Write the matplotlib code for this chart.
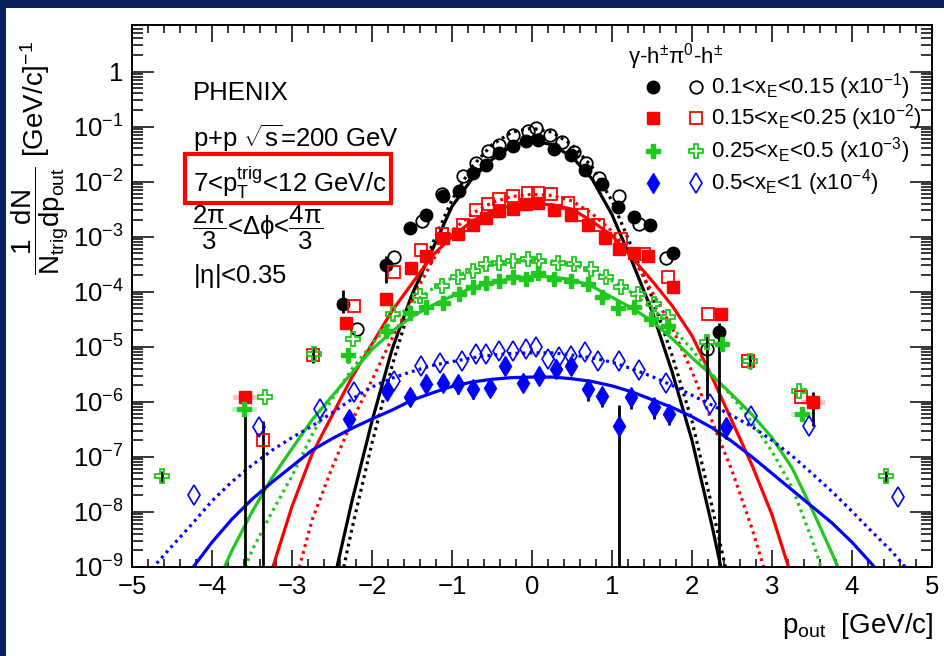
import numpy as np
import matplotlib
matplotlib.use("Agg")
import matplotlib.pyplot as plt
from matplotlib.patches import Rectangle
from matplotlib.ticker import FixedLocator, LogLocator, MultipleLocator, NullFormatter

plt.rcParams['font.family'] = ['Liberation Sans', 'DejaVu Sans']
plt.rcParams['mathtext.fontset'] = 'custom'
plt.rcParams['mathtext.rm'] = 'Liberation Sans'
plt.rcParams['mathtext.it'] = 'Liberation Sans'
plt.rcParams['mathtext.bf'] = 'Liberation Sans:bold'
plt.rcParams['mathtext.default'] = 'regular'

# ---------------- data (values are log10 of 1/Ntrig dN/dpout, already scaled) -------------
# gamma-h, 0.1<xE<0.15 (x1e-1)
bk_g_x = [-2.36, -1.82, -1.53, -1.32, -1.11, -0.91, -0.74, -0.57, -0.41, -0.24, -0.07,
          0.07, 0.28, 0.49, 0.66, 0.87, 1.07, 1.27, 1.47, 1.76, 2.34]
bk_g_y = [-4.23, -3.52, -2.84, -2.60, -2.26, -2.17, -1.84, -1.69, -1.48, -1.36, -1.26,
          -1.24, -1.40, -1.52, -1.78, -2.05, -2.46, -2.64, -2.79, -3.29, -4.74]
# pi0-h, 0.1<xE<0.15 (x1e-1)
bk_p_x = [-2.19, -1.72, -1.38, -1.13, -0.86, -0.70, -0.55, -0.41, -0.24, -0.05,
          0.05, 0.22, 0.37, 0.53, 0.68, 0.84, 1.09, 1.34, 1.68, 2.19]
bk_p_y = [-4.68, -3.36, -2.72, -2.23, -1.90, -1.66, -1.45, -1.33, -1.15, -1.08,
          -1.03, -1.15, -1.28, -1.46, -1.66, -1.93, -2.27, -2.77, -3.38, -5.04]

# gamma-h, 0.15<xE<0.25 (x1e-2)
rd_g_x = [-3.59, -2.32, -1.82, -1.51, -1.32, -1.11, -0.93, -0.74, -0.57, -0.41, -0.24, -0.07,
          0.07, 0.28, 0.49, 0.70, 0.91, 1.09, 1.28, 1.45, 1.76, 2.36, 3.51]
rd_g_y = [-5.92, -4.56, -4.14, -3.56, -3.35, -3.02, -2.96, -2.78, -2.66, -2.54, -2.50, -2.40,
          -2.38, -2.51, -2.60, -2.78, -3.02, -3.23, -3.29, -3.35, -3.91, -4.41, -6.01]
# pi0-h, 0.15<xE<0.25 (x1e-2)
rd_p_x = [-3.36, -2.74, -2.22, -1.73, -1.39, -1.13, -0.86, -0.70, -0.55, -0.41, -0.24, -0.05,
          0.07, 0.24, 0.45, 0.63, 0.82, 1.11, 1.40, 1.70, 2.20, 2.70, 3.36]
rd_p_y = [-6.69, -5.15, -4.26, -3.65, -3.25, -2.96, -2.78, -2.51, -2.41, -2.32, -2.26, -2.20,
          -2.21, -2.23, -2.38, -2.60, -2.78, -3.05, -3.32, -3.73, -4.41, -5.25, -5.92]

# gamma-h, 0.25<xE<0.5 (x1e-3)
gr_g_x = [-3.60, -2.30, -1.82, -1.52, -1.32, -1.11, -0.91, -0.74, -0.57, -0.41, -0.24, -0.07,
          0.07, 0.28, 0.49, 0.70, 0.88, 1.07, 1.27, 1.49, 1.70, 2.38, 3.38]
gr_g_y = [-6.13, -5.15, -4.71, -4.38, -4.28, -4.20, -4.05, -3.92, -3.84, -3.80, -3.74, -3.76,
          -3.66, -3.77, -3.80, -3.86, -4.10, -4.29, -4.28, -4.50, -4.62, -4.95, -6.22]
# pi0-h, 0.25<xE<0.5 (x1e-3)
gr_p_x = [-4.63, -3.34, -2.72, -2.24, -1.74, -1.40, -1.13, -0.93, -0.74, -0.57, -0.41, -0.24,
          -0.05, 0.09, 0.32, 0.53, 0.74, 0.93, 1.11, 1.32, 1.53, 1.70, 2.19, 2.72, 3.34, 4.42]
gr_p_y = [-7.34, -5.92, -5.14, -4.86, -4.41, -4.08, -3.90, -3.74, -3.62, -3.50, -3.47, -3.44,
          -3.41, -3.44, -3.47, -3.50, -3.59, -3.74, -3.92, -4.05, -4.23, -4.45, -4.92, -5.25,
          -5.80, -7.34]

# gamma-h, 0.5<xE<1 (x1e-4)
bl_g_x = [-2.29, -1.81, -1.53, -1.33, -1.11, -0.92, -0.74, -0.53, -0.34, -0.11,
          0.09, 0.30, 0.49, 0.70, 0.88, 1.09, 1.24, 1.53, 1.71, 2.42]
bl_g_y = [-6.31, -5.80, -5.92, -5.68, -5.65, -5.68, -5.77, -5.74, -5.34, -5.65,
          -5.53, -5.40, -5.34, -5.77, -5.89, -6.43, -5.92, -6.10, -6.22, -6.46]
bl_g_err = [0.12, 0.12, 0.12, 0.12, 0.12, 0.14, 0.14, 0.12, 0.12, 0.12,
            0.10, 0.10, 0.10, 0.16, 0.16, 0.00, 0.16, 0.16, 0.16, 0.16]
# pi0-h, 0.5<xE<1 (x1e-4)
bl_p_x = [-4.23, -3.41, -2.65, -2.22, -1.73, -1.39, -1.15, -0.88, -0.70, -0.57, -0.41, -0.24,
          -0.07, 0.05, 0.20, 0.34, 0.49, 0.66, 0.82, 1.09, 1.34, 1.68, 2.22, 2.74, 3.46, 4.57]
bl_p_y = [-7.70, -6.46, -6.13, -5.83, -5.62, -5.34, -5.30, -5.25, -5.13, -5.13, -5.07, -5.07,
          -5.04, -5.01, -5.22, -5.19, -5.16, -5.10, -5.25, -5.25, -5.43, -5.65, -6.04, -6.25,
          -6.43, -7.73]

# large (black) uncertainties: position, lower edge, upper edge (log10)
eb_x = [-3.59, -3.36, 1.09, 2.34, 2.19, 3.51, -2.36, -1.82, -2.74, -2.30, 2.72, 4.42, -4.63]
eb_lo = [-10.0, -10.0, -10.0, -10.0, -5.95, -6.44, -4.39, -3.85, -5.30, -5.30, -5.40, -7.45, -7.45]
eb_hi = [-6.05, -6.34, -6.06, -4.56, -4.80, -5.82, -3.97, -3.35, -5.00, -5.05, -5.15, -7.25, -7.25]

# fit curves (gamma-h solid, pi0-h dotted)
fit_bk_g_x = [-2.5, -2.25, -2.0, -1.75, -1.5, -1.25, -1.0, -0.75, -0.5, -0.25, 0.0,
              0.25, 0.5, 0.75, 1.0, 1.25, 1.5, 1.75, 2.0, 2.25, 2.5]
fit_bk_g_y = [-9.4, -7.8, -6.35, -5.05, -4.05, -3.25, -2.45, -1.95, -1.6, -1.35, -1.25,
              -1.33, -1.55, -1.95, -2.6, -3.45, -4.35, -5.45, -6.7, -8.25, -9.95]
fit_bk_p_x = fit_bk_g_x
fit_bk_p_y = [-10.0, -8.3, -6.75, -5.35, -4.15, -3.15, -2.33, -1.73, -1.33, -1.1, -1.03,
              -1.1, -1.33, -1.73, -2.35, -3.2, -4.1, -5.15, -6.35, -7.9, -9.55]

fit_rd_g_x = [-3.25, -3.0, -2.75, -2.5, -2.25, -2.0, -1.75, -1.5, -1.25, -1.0, -0.75, -0.5, -0.25, 0.0,
              0.25, 0.5, 0.75, 1.0, 1.25, 1.5, 1.75, 2.0, 2.25, 2.5, 2.75, 3.0, 3.25]
fit_rd_g_y = [-9.05, -7.9, -6.95, -6.25, -5.55, -4.95, -4.35, -3.85, -3.35, -3.0, -2.72, -2.53, -2.43, -2.4,
              -2.42, -2.5, -2.72, -2.98, -3.38, -3.8, -4.25, -4.8, -5.55, -6.35, -7.15, -8.05, -9.2]
fit_rd_p_x = [-3.0, -2.75, -2.5, -2.25, -2.0, -1.75, -1.5, -1.25, -1.0, -0.75, -0.5, -0.25, 0.0,
              0.25, 0.5, 0.75, 1.0, 1.25, 1.5, 1.75, 2.0, 2.25, 2.5, 2.75, 3.0]
fit_rd_p_y = [-9.5, -8.15, -7.2, -6.35, -5.6, -4.85, -4.15, -3.45, -2.9, -2.58, -2.38, -2.27, -2.23,
              -2.25, -2.35, -2.58, -2.9, -3.35, -4.0, -4.65, -5.45, -6.35, -7.25, -8.3, -9.5]

fit_gr_g_x = [-4.0, -3.75, -3.5, -3.25, -3.0, -2.75, -2.5, -2.25, -2.0, -1.75, -1.5, -1.25, -1.0,
              -0.75, -0.5, -0.25, 0.0, 0.25, 0.5, 0.75, 1.0, 1.25, 1.5, 1.75, 2.0, 2.25, 2.5,
              2.75, 3.0, 3.25, 3.5, 3.75, 4.0]
fit_gr_g_y = [-9.5, -8.7, -8.0, -7.38, -6.85, -6.33, -5.9, -5.47, -5.05, -4.72, -4.45, -4.25, -4.08,
              -3.93, -3.83, -3.76, -3.72, -3.73, -3.78, -3.9, -4.1, -4.3, -4.53, -4.85, -5.2, -5.52,
              -5.87, -6.23, -6.65, -7.2, -7.95, -8.75, -9.6]
fit_gr_p_x = [-3.75, -3.5, -3.25, -3.0, -2.75, -2.5, -2.25, -2.0, -1.75, -1.5, -1.25, -1.0,
              -0.75, -0.5, -0.25, 0.0, 0.25, 0.5, 0.75, 1.0, 1.25, 1.5, 1.75, 2.0, 2.25, 2.5,
              2.75, 3.0, 3.25, 3.5, 3.75]
fit_gr_p_y = [-9.6, -8.7, -8.0, -7.35, -6.6, -5.95, -5.4, -4.95, -4.55, -4.22, -3.95, -3.75,
              -3.6, -3.5, -3.45, -3.43, -3.44, -3.5, -3.62, -3.8, -4.02, -4.3, -4.65, -5.05, -5.5,
              -5.9, -6.37, -6.9, -7.55, -8.5, -9.6]

fit_bl_g_x = [-4.5, -4.25, -4.0, -3.75, -3.5, -3.25, -3.0, -2.75, -2.5, -2.25, -2.0, -1.75, -1.5,
              -1.25, -1.0, -0.75, -0.5, -0.25, 0.0, 0.25, 0.5, 0.75, 1.0, 1.25, 1.5, 1.75, 2.0,
              2.25, 2.5, 2.75, 3.0, 3.25, 3.5, 3.75, 4.0, 4.25, 4.5]
fit_bl_g_y = [-9.55, -9.03, -8.55, -8.13, -7.77, -7.46, -7.17, -6.88, -6.67, -6.48, -6.31, -6.15, -5.97,
              -5.84, -5.72, -5.64, -5.59, -5.56, -5.55, -5.55, -5.58, -5.63, -5.71, -5.82, -5.96, -6.1,
              -6.27, -6.47, -6.72, -7.0, -7.3, -7.6, -7.9, -8.2, -8.55, -8.95, -9.4]
fit_bl_p_x = [-4.75, -4.5, -4.25, -4.0, -3.75, -3.5, -3.25, -3.0, -2.75, -2.5, -2.25, -2.0, -1.75,
              -1.5, -1.25, -1.0, -0.75, -0.5, -0.25, 0.0, 0.25, 0.5, 0.75, 1.0, 1.25, 1.5, 1.75,
              2.0, 2.25, 2.5, 2.75, 3.0, 3.25, 3.5, 3.75, 4.0, 4.25, 4.5, 4.75]
fit_bl_p_y = [-9.03, -8.62, -8.22, -7.8, -7.45, -7.15, -6.88, -6.65, -6.44, -6.2, -5.95, -5.73, -5.57,
              -5.45, -5.34, -5.27, -5.2, -5.15, -5.12, -5.11, -5.11, -5.15, -5.2, -5.28, -5.4, -5.54,
              -5.7, -5.88, -6.06, -6.25, -6.45, -6.7, -6.98, -7.3, -7.63, -7.99, -8.36, -8.72, -9.15]

legend_labels = [r'0.1<x$_{E}$<0.15 (x10$^{-1}$)', r'0.15<x$_{E}$<0.25 (x10$^{-2}$)',
                 r'0.25<x$_{E}$<0.5 (x10$^{-3}$)', r'0.5<x$_{E}$<1 (x10$^{-4}$)']
y_tick_exp = [-9, -8, -7, -6, -5, -4, -3, -2, -1, 0]
x_ticks = [-5, -4, -3, -2, -1, 0, 1, 2, 3, 4, 5]

# ---------------- styling -------------
BLACK, RED, GREEN, BLUE = '#000000', '#ff0000', '#1ec81e', '#0000ff'
NAVY = '#0a1f5c'
W, H = 945, 656


def p10(v):
    return np.power(10.0, np.asarray(v, dtype=float))


fig = plt.figure(figsize=(W / 100, H / 100), dpi=100, facecolor='white')
fig.add_artist(Rectangle((0, 1 - 8 / H), 1, 8 / H, transform=fig.transFigure,
                         facecolor=NAVY, edgecolor='none', zorder=10))
fig.add_artist(Rectangle((0, 0), 6 / W, 1, transform=fig.transFigure,
                         facecolor=NAVY, edgecolor='none', zorder=10))

ax_l, ax_r, ax_t, ax_b = 132, 932, 25, 567
ax = fig.add_axes([ax_l / W, 1 - ax_b / H, (ax_r - ax_l) / W, (ax_b - ax_t) / H])
ax.set_yscale('log')
ax.set_xlim(-5, 5)
ax.set_ylim(1e-9, 7)

LW = 2.3
DOT = (0, (0.9, 1.3))
curves = [
    (fit_bk_g_x, fit_bk_g_y, BLACK, '-'), (fit_bk_p_x, fit_bk_p_y, BLACK, DOT),
    (fit_rd_g_x, fit_rd_g_y, RED, '-'), (fit_rd_p_x, fit_rd_p_y, RED, DOT),
    (fit_gr_g_x, fit_gr_g_y, GREEN, '-'), (fit_gr_p_x, fit_gr_p_y, GREEN, DOT),
    (fit_bl_g_x, fit_bl_g_y, BLUE, '-'), (fit_bl_p_x, fit_bl_p_y, BLUE, DOT),
]
for cx, cy, col, ls in curves:
    ax.plot(cx, p10(cy), color=col, lw=LW, ls=ls, zorder=2, solid_capstyle='butt')

# faint horizontal bin-width bars on a few tail points
for hx, hy, col in [(-3.59, -5.92, RED), (-3.60, -6.13, GREEN), (3.51, -6.01, RED), (3.38, -6.22, GREEN)]:
    ax.plot([hx - 0.12, hx + 0.12], p10([hy, hy]), color=col, lw=3.5, alpha=0.25, zorder=2.4)

# black uncertainty bars
ax.vlines(eb_x, p10(eb_lo), p10(eb_hi), color='black', lw=2.0, zorder=2.5)
blg_y = np.asarray(bl_g_y)
blg_e = np.asarray(bl_g_err)
ax.vlines(bl_g_x, p10(blg_y - blg_e * 1.3), p10(blg_y + blg_e * 0.5), color='black', lw=2.0, zorder=2.5)

mk = dict(linestyle='none', zorder=4)
ax.plot(bk_g_x, p10(bk_g_y), marker='o', ms=9, mfc=BLACK, mec=BLACK, **mk)
ax.plot(bk_p_x, p10(bk_p_y), marker='o', ms=9, mfc='none', mec=BLACK, mew=1.3, **mk)
ax.plot(rd_g_x, p10(rd_g_y), marker='s', ms=8, mfc=RED, mec=RED, **mk)
ax.plot(rd_p_x, p10(rd_p_y), marker='s', ms=8, mfc='none', mec=RED, mew=1.3, **mk)
ax.plot(gr_g_x, p10(gr_g_y), marker='P', ms=10, mfc=GREEN, mec=GREEN, **mk)
ax.plot(gr_p_x, p10(gr_p_y), marker='P', ms=10, mfc='none', mec=GREEN, mew=1.3, **mk)
ax.plot(bl_g_x, p10(bl_g_y), marker='d', ms=10, mfc=BLUE, mec=BLUE, **mk)
ax.plot(bl_p_x, p10(bl_p_y), marker='d', ms=10, mfc='none', mec=BLUE, mew=1.2, **mk)

# axes, ticks
for s in ax.spines.values():
    s.set_linewidth(1.4)
ax.xaxis.set_major_locator(FixedLocator(x_ticks))
ax.xaxis.set_minor_locator(MultipleLocator(0.2))
ax.yaxis.set_major_locator(FixedLocator([10.0 ** e for e in y_tick_exp]))
ax.yaxis.set_minor_locator(LogLocator(base=10, subs=np.arange(2, 10), numticks=30))
ax.yaxis.set_minor_formatter(NullFormatter())
ax.set_xticklabels(['\u2212%d' % -t if t < 0 else '%d' % t for t in x_ticks])
ax.set_yticklabels([r'$10^{%d}$' % e if e != 0 else '1' for e in y_tick_exp])
ax.tick_params(which='both', direction='in', top=True, right=True, width=1.1, labelsize=18.5)
ax.tick_params(axis='x', which='major', length=12, pad=6)
ax.tick_params(axis='x', which='minor', length=6)
ax.tick_params(axis='y', which='major', length=16, pad=6)
ax.tick_params(axis='y', which='minor', length=8)


def ftext(px, py, s, **kw):
    return fig.text(px / W, 1 - py / H, s, **kw)


# axis titles
ftext(933, 633, r'p$_{out}$  [GeV/c]', ha='right', va='baseline', fontsize=20)
ftext(40, 275, r'$\dfrac{1\ \ dN}{N_{trig}dp_{out}}$ [GeV/c]$^{-1}$', rotation=90,
      ha='center', va='bottom', fontsize=20)

# labels
TS = 18.5
ftext(193, 100, 'PHENIX', fontsize=TS, va='baseline')
ftext(193, 147, r'p+p $\sqrt{s}$=200 GeV', fontsize=TS, va='baseline')
ftext(193, 192, r'7<p$_{T}^{trig}$<12 GeV/c', fontsize=TS, va='baseline')
fig.add_artist(Rectangle((185 / W, 1 - 203 / H), (391 - 185) / W, (203 - 154) / H,
                         transform=fig.transFigure, facecolor='none', edgecolor=RED, lw=3.0, zorder=5))
ftext(192, 228, r'$\dfrac{2\pi}{3}$<$\Delta\phi$<$\dfrac{4\pi}{3}$', fontsize=TS, va='center')
ftext(193, 283, r'|$\eta$|<0.35', fontsize=TS, va='baseline')

# legend
ftext(628, 64, r'$\gamma$-h$^{\pm}$$\pi^{0}$-h$^{\pm}$', fontsize=16, va='baseline')
leg_rows = [87, 118, 151, 183]
leg_styles = [
    (dict(marker='o', ms=9, mfc=BLACK, mec=BLACK), dict(marker='o', ms=9, mfc='none', mec=BLACK, mew=1.3)),
    (dict(marker='s', ms=8, mfc=RED, mec=RED), dict(marker='s', ms=8, mfc='none', mec=RED, mew=1.3)),
    (dict(marker='P', ms=10, mfc=GREEN, mec=GREEN), dict(marker='P', ms=10, mfc='none', mec=GREEN, mew=1.3)),
    (dict(marker='d', ms=10, mfc=BLUE, mec=BLUE), dict(marker='d', ms=10, mfc='none', mec=BLUE, mew=1.2)),
]
for ry, (fs, os_), lab in zip(leg_rows, leg_styles, legend_labels):
    yy = 1 - ry / H
    fig.add_artist(plt.Line2D([653 / W], [yy], transform=fig.transFigure, linestyle='none', **fs))
    fig.add_artist(plt.Line2D([696 / W], [yy], transform=fig.transFigure, linestyle='none', **os_))
    ftext(711, ry, lab, fontsize=16, va='center')

fig.savefig('out.png', dpi=100, facecolor='white')
